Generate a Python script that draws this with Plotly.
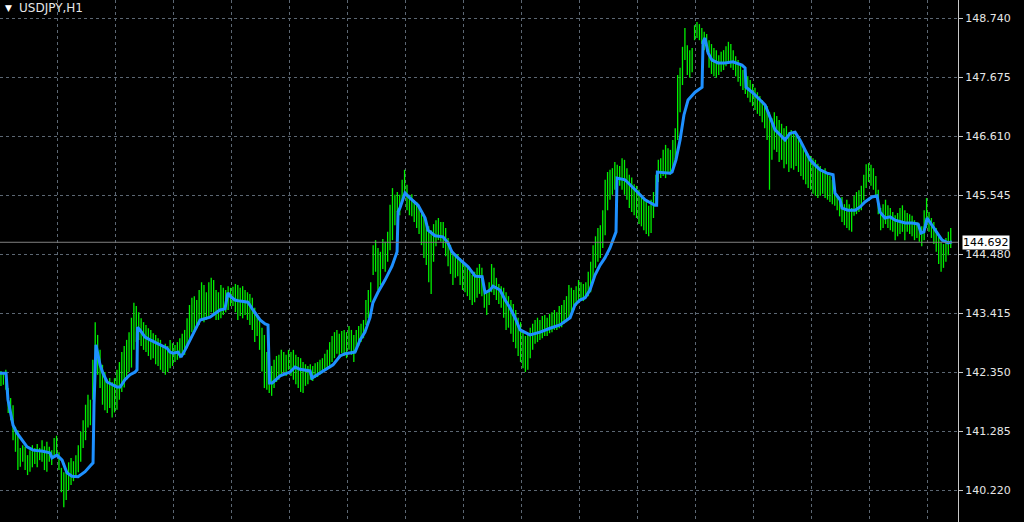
import plotly.graph_objects as go

# ---------------- data ----------------
symbol_title = "USDJPY,H1"
last_price = 144.692

price_ticks = [140.220, 141.285, 142.350, 143.415, 144.480, 145.545, 146.610, 147.675, 148.740]

# hourly bar highs / lows, oldest first
bar_high = [
    142.37, 142.35, 142.39, 142.06, 141.88, 141.75, 141.36, 141.30, 140.98, 141.03, 141.00, 140.85,
    140.94, 141.03, 140.98, 141.05, 140.98, 141.12, 141.01, 141.09, 141.00, 140.94, 141.16, 141.20,
    140.90, 140.62, 140.54, 140.60, 140.72, 140.80, 140.74, 140.85, 141.03, 141.27, 141.48, 141.76,
    141.94, 141.85, 142.57, 143.25, 143.02, 142.75, 142.48, 142.35, 142.21, 142.24, 142.17, 142.24,
    142.39, 142.53, 142.71, 142.82, 142.93, 143.07, 143.33, 143.60, 143.54, 143.43, 143.32, 143.25,
    143.20, 143.14, 143.11, 143.05, 143.02, 142.96, 142.93, 142.84, 142.86, 142.82, 142.93, 142.87,
    142.84, 142.89, 142.96, 143.04, 143.11, 143.32, 143.56, 143.69, 143.72, 143.65, 143.83, 143.97,
    143.92, 143.79, 143.97, 144.05, 144.01, 143.83, 143.79, 143.92, 143.87, 143.83, 143.90, 143.87,
    143.89, 143.94, 143.92, 143.87, 143.90, 143.83, 143.79, 143.76, 143.69, 143.51, 143.38, 143.29,
    143.15, 143.02, 142.71, 142.53, 142.46, 142.57, 142.64, 142.66, 142.75, 142.71, 142.66, 142.75,
    142.71, 142.75, 142.66, 142.62, 142.60, 142.53, 142.49, 142.46, 142.49, 142.46, 142.51, 142.53,
    142.57, 142.60, 142.68, 142.75, 142.89, 143.00, 143.07, 143.11, 143.04, 143.09, 143.11, 143.07,
    143.18, 143.11, 143.02, 143.11, 143.18, 143.22, 143.29, 143.65, 143.83, 143.97, 144.64, 144.73,
    144.59, 144.52, 144.75, 144.70, 144.88, 145.37, 145.67, 145.55, 145.60, 145.55, 145.82, 146.00,
    145.73, 145.55, 145.56, 145.45, 145.42, 145.31, 145.20, 145.13, 145.06, 144.98, 144.91, 145.02,
    145.09, 145.13, 145.06, 145.06, 144.95, 144.77, 144.64, 144.52, 144.46, 144.48, 144.41, 144.34,
    144.28, 144.26, 144.19, 144.10, 144.16, 144.23, 144.30, 144.23, 143.92, 143.79, 143.97, 144.30,
    144.23, 144.05, 143.94, 143.90, 143.87, 143.79, 143.72, 143.65, 143.58, 143.47, 143.33, 143.25,
    143.11, 143.00, 143.04, 143.15, 143.22, 143.29, 143.33, 143.29, 143.36, 143.38, 143.33, 143.40,
    143.43, 143.47, 143.43, 143.54, 143.56, 143.65, 143.72, 143.92, 143.87, 143.83, 143.90, 144.01,
    143.97, 143.94, 143.97, 144.16, 144.34, 144.64, 144.80, 144.95, 145.00, 145.27, 145.82, 145.96,
    146.00, 146.03, 146.14, 146.09, 146.07, 146.21, 146.18, 146.03, 145.91, 145.86, 145.74, 145.71,
    145.64, 145.55, 145.49, 145.42, 145.35, 145.46, 145.60, 145.91, 146.18, 146.21, 146.36, 146.45,
    146.39, 146.36, 146.54, 146.75, 147.71, 147.84, 148.22, 148.56, 148.25, 148.16, 148.20, 148.61,
    148.67, 148.63, 148.56, 148.49, 148.45, 148.34, 148.27, 148.20, 148.16, 148.07, 148.13, 148.16,
    148.23, 148.31, 148.27, 148.16, 148.05, 147.98, 147.91, 147.80, 147.73, 147.69, 147.62, 147.55,
    147.48, 147.40, 147.33, 147.26, 147.19, 147.15, 147.04, 146.93, 147.04, 146.97, 146.90, 146.83,
    146.75, 146.79, 146.68, 146.72, 146.65, 146.61, 146.54, 146.50, 146.39, 146.32, 146.29, 146.25,
    146.21, 146.18, 146.11, 146.07, 146.00, 146.03, 145.96, 145.89, 145.82, 145.60, 145.53, 145.49,
    145.51, 145.38, 145.46, 145.38, 145.31, 145.53, 145.60, 145.63, 145.71, 145.91, 146.10, 146.12,
    146.09, 146.03, 145.89, 145.64, 145.31, 145.38, 145.46, 145.36, 145.31, 145.24, 145.18, 145.22,
    145.31, 145.36, 145.27, 145.22, 145.20, 145.17, 145.09, 145.06, 145.02, 144.98, 145.27, 145.49,
    145.24, 145.13, 145.06, 144.95, 144.80, 144.70, 144.66, 144.77, 144.88, 144.95,
]
bar_low = [
    142.10, 142.12, 142.03, 141.61, 141.48, 141.12, 140.91, 140.58, 140.64, 140.73, 140.58, 140.49,
    140.55, 140.63, 140.69, 140.63, 140.76, 140.73, 140.58, 140.55, 140.73, 140.67, 140.80, 140.85,
    140.58, 140.18, 139.91, 140.04, 140.22, 140.31, 140.38, 140.44, 140.54, 140.73, 140.98, 141.12,
    141.35, 141.39, 141.85, 142.42, 142.30, 142.06, 141.76, 141.66, 141.61, 141.70, 141.53, 141.62,
    141.67, 141.85, 141.99, 142.07, 142.21, 142.35, 142.43, 142.75, 142.89, 142.93, 142.82, 142.75,
    142.71, 142.64, 142.57, 142.60, 142.49, 142.46, 142.39, 142.35, 142.30, 142.35, 142.42, 142.46,
    142.53, 142.57, 142.60, 142.64, 142.66, 142.78, 142.93, 143.07, 143.11, 143.14, 143.20, 143.29,
    143.25, 143.29, 143.36, 143.43, 143.38, 143.29, 143.29, 143.32, 143.38, 143.43, 143.47, 143.54,
    143.54, 143.43, 143.29, 143.36, 143.32, 143.38, 143.29, 143.20, 143.11, 142.89, 143.00, 142.75,
    142.36, 142.06, 142.03, 141.97, 141.92, 142.06, 142.17, 142.21, 142.30, 142.35, 142.28, 142.39,
    142.28, 142.21, 142.13, 142.06, 141.99, 141.97, 142.10, 142.13, 142.21, 142.19, 142.24, 142.26,
    142.30, 142.33, 142.37, 142.40, 142.42, 142.53, 142.60, 142.68, 142.64, 142.69, 142.64, 142.60,
    142.75, 142.66, 142.53, 142.71, 142.82, 142.89, 142.96, 143.20, 143.32, 143.61, 144.10, 144.16,
    143.83, 143.92, 144.21, 144.16, 144.34, 144.55, 144.73, 145.00, 145.24, 145.18, 145.46, 145.49,
    145.27, 145.18, 145.16, 145.06, 144.95, 144.84, 144.64, 144.41, 144.28, 143.97, 143.76, 144.34,
    144.62, 144.73, 144.70, 144.59, 144.44, 144.26, 144.12, 143.92, 144.05, 144.08, 143.92, 143.83,
    143.79, 143.72, 143.65, 143.56, 143.61, 143.69, 143.76, 143.72, 143.51, 143.38, 143.56, 143.79,
    143.74, 143.65, 143.58, 143.51, 143.33, 143.11, 143.15, 143.04, 142.89, 142.78, 142.64, 142.53,
    142.42, 142.35, 142.39, 142.60, 142.75, 142.86, 142.89, 142.93, 142.96, 143.00, 143.00, 143.05,
    143.07, 143.11, 143.11, 143.14, 143.16, 143.22, 143.25, 143.33, 143.40, 143.47, 143.54, 143.61,
    143.65, 143.63, 143.69, 143.72, 143.79, 144.05, 144.23, 144.34, 144.41, 144.59, 144.82, 145.27,
    145.46, 145.55, 145.64, 145.67, 145.71, 145.64, 145.55, 145.46, 145.31, 145.24, 145.18, 145.13,
    145.02, 144.98, 144.91, 144.84, 144.80, 144.86, 145.13, 145.36, 145.78, 145.85, 145.89, 145.85,
    145.96, 145.91, 146.00, 146.14, 146.54, 147.04, 147.53, 147.98, 147.71, 147.66, 147.76, 148.34,
    148.38, 148.34, 148.27, 148.16, 148.13, 147.84, 147.73, 147.69, 147.66, 147.71, 147.77, 147.80,
    147.87, 147.91, 147.84, 147.80, 147.69, 147.59, 147.51, 147.44, 147.37, 147.30, 147.22, 147.15,
    147.08, 147.01, 146.97, 146.86, 146.75, 146.54, 145.64, 146.18, 146.36, 146.32, 146.14, 146.18,
    146.03, 146.10, 145.96, 146.03, 146.00, 146.07, 145.96, 145.89, 145.82, 145.74, 145.67, 145.64,
    145.57, 145.53, 145.49, 145.53, 145.57, 145.49, 145.46, 145.42, 145.38, 145.35, 145.27, 145.16,
    145.06, 145.00, 144.95, 144.91, 144.88, 145.17, 145.20, 145.24, 145.27, 145.45, 145.67, 145.78,
    145.71, 145.64, 145.53, 145.20, 144.91, 144.95, 145.02, 144.95, 144.91, 144.88, 144.73, 144.80,
    144.84, 144.88, 144.73, 144.88, 144.84, 144.80, 144.73, 144.77, 144.70, 144.62, 144.73, 144.95,
    144.88, 144.77, 144.66, 144.52, 144.30, 144.16, 144.23, 144.34, 144.46, 144.59,
]

# moving-average line (bar position, price)
ma_bar = [
    -0.4, 2.1, 2.9, 5.0, 6.6, 10.8, 13.3, 17.4, 20.3, 21.1,
    23.2, 25.3, 27.3, 29.4, 31.9, 34.8, 36.8, 38.1, 38.5, 39.3,
    41.0, 42.2, 43.9, 45.9, 48.0, 49.3, 51.3, 53.4, 55.5, 56.3,
    56.5, 57.5, 59.6, 61.7, 65.8, 68.7, 69.9, 71.2, 73.3, 74.5,
    76.2, 78.2, 80.3, 82.4, 86.5, 90.6, 92.7, 93.9, 94.8, 96.8,
    98.9, 102.2, 104.3, 107.2, 109.3, 110.5, 111.1, 112.2, 115.5, 119.6,
    121.7, 123.7, 127.9, 128.7, 131.2, 134.1, 137.4, 140.3, 142.4, 146.5,
    148.6, 150.6, 152.7, 153.9, 156.0, 158.9, 161.8, 163.9, 164.3, 165.1,
    166.4, 167.2, 169.3, 172.6, 175.5, 176.7, 179.6, 182.9, 185.0, 186.6,
    189.1, 193.3, 196.2, 199.1, 200.3, 202.4, 203.6, 206.5, 208.6, 210.6,
    212.7, 214.8, 218.9, 223.1, 227.2, 231.3, 235.5, 237.5, 239.6, 241.7,
    243.7, 245.8, 247.9, 249.9, 252.0, 254.5, 254.9, 258.2, 262.4, 266.5,
    270.6, 271.3, 271.6, 276.8, 277.7, 279.3, 281.0, 282.6, 284.3, 287.2,
    290.1, 290.5, 291.3, 292.6, 294.2, 296.7, 299.6, 302.9, 306.6, 307.9,
    308.3, 310.8, 314.1, 316.2, 317.4, 320.3, 322.4, 324.4, 326.5, 328.6,
    330.6, 332.7, 334.8, 336.8, 338.9, 341.8, 344.3, 345.1, 347.2, 348.0,
    350.5, 353.4, 355.5, 357.5, 360.4, 362.5, 363.7, 365.8, 367.9, 370.0,
    374.1, 377.0, 379.5, 380.7, 381.9, 383.2, 385.3, 387.3, 389.4, 391.9,
    393.5,
]
ma_price = [
    142.33, 142.33, 141.85, 141.39, 141.25, 141.00, 140.94, 140.92, 140.89, 140.80,
    140.85, 140.76, 140.53, 140.47, 140.46, 140.55, 140.65, 140.71, 141.76, 142.84,
    142.48, 142.33, 142.17, 142.12, 142.08, 142.08, 142.21, 142.30, 142.35, 142.39,
    143.16, 143.11, 142.98, 142.93, 142.84, 142.78, 142.71, 142.69, 142.71, 142.62,
    142.75, 142.93, 143.11, 143.29, 143.34, 143.47, 143.49, 143.78, 143.72, 143.65,
    143.63, 143.61, 143.47, 143.29, 143.22, 143.20, 142.15, 142.15, 142.28, 142.35,
    142.44, 142.40, 142.37, 142.24, 142.31, 142.39, 142.48, 142.64, 142.68, 142.71,
    142.93, 143.07, 143.33, 143.60, 143.79, 144.01, 144.26, 144.52, 145.24, 145.31,
    145.49, 145.58, 145.49, 145.36, 145.13, 144.91, 144.81, 144.79, 144.68, 144.52,
    144.41, 144.25, 144.08, 144.07, 143.78, 143.83, 143.90, 143.83, 143.65, 143.51,
    143.33, 143.11, 143.02, 143.07, 143.14, 143.20, 143.33, 143.56, 143.65, 143.69,
    143.83, 144.10, 144.28, 144.41, 144.59, 144.88, 145.85, 145.82, 145.64, 145.46,
    145.36, 145.36, 145.96, 145.94, 145.96, 146.18, 146.54, 146.99, 147.26, 147.40,
    147.49, 148.31, 148.38, 148.11, 147.98, 147.93, 147.93, 147.95, 147.89, 147.84,
    147.49, 147.40, 147.26, 147.17, 147.04, 146.72, 146.63, 146.54, 146.66, 146.68,
    146.54, 146.36, 146.18, 146.09, 146.00, 145.94, 145.91, 145.58, 145.46, 145.31,
    145.27, 145.27, 145.33, 145.42, 145.51, 145.53, 145.24, 145.13, 145.15, 145.09,
    145.04, 145.04, 145.02, 144.86, 144.88, 145.13, 145.00, 144.86, 144.73, 144.68,
    144.70,
]

# ---------------- figure ----------------
bar_x, bar_y = [], []
for i, (h, l) in enumerate(zip(bar_high, bar_low)):
    bar_x += [i, i, None]
    bar_y += [l, h, None]

fig = go.Figure()
fig.add_trace(go.Scatter(x=bar_x, y=bar_y, mode="lines",
                         line=dict(color="#00f000", width=1.3),
                         hoverinfo="skip", connectgaps=False))
fig.add_trace(go.Scatter(x=ma_bar, y=ma_price, mode="lines",
                         line=dict(color="#1e90ff", width=3),
                         hoverinfo="skip"))

grid_col = "#5c6773"
fig.update_xaxes(range=[-0.4, 396.0], showgrid=True, gridcolor=grid_col, gridwidth=1,
                 griddash="3px,3px", tick0=23.19, dtick=24, showticklabels=False,
                 ticks="", zeroline=False, showline=False)
fig.update_yaxes(range=[139.643, 149.065], side="right", tickmode="array",
                 tickvals=price_ticks, ticktext=[f"{v:.3f}" for v in price_ticks],
                 showgrid=True, gridcolor=grid_col, gridwidth=1, griddash="3px,3px",
                 ticks="outside", ticklen=4, tickcolor="#c8c8c8",
                 showline=True, linecolor="#c8c8c8", linewidth=1, zeroline=False,
                 tickfont=dict(family="DejaVu Sans", size=11, color="#e6e6e6"))

fig.add_shape(type="line", xref="paper", x0=0, x1=1, yref="y", y0=last_price, y1=last_price,
              line=dict(color="#808080", width=1))

fig.add_annotation(text=f"{last_price:.3f}", xref="paper", x=1, xanchor="left", xshift=4,
                   yref="y", y=last_price, yanchor="middle", showarrow=False,
                   bgcolor="white", borderpad=0,
                   font=dict(family="DejaVu Sans", size=11, color="black"))

fig.add_annotation(text="▼", xref="paper", x=3 / 958, xanchor="left", yref="paper",
                   y=1 - 8 / 522, yanchor="middle", showarrow=False,
                   font=dict(family="DejaVu Sans", size=9, color="white"))
fig.add_annotation(text=symbol_title, xref="paper", x=17 / 958, xanchor="left", yref="paper",
                   y=1 - 8 / 522, yanchor="middle", showarrow=False,
                   font=dict(family="DejaVu Sans", size=12, color="#e6e6e6"))

fig.update_layout(width=1024, height=522, margin=dict(l=0, r=66, t=0, b=0),
                  paper_bgcolor="black", plot_bgcolor="black", showlegend=False,
                  hovermode=False)

fig.write_html("out.html", config={"displayModeBar": False},
               post_script="document.body.style.margin='0px';document.body.style.background='black';")
